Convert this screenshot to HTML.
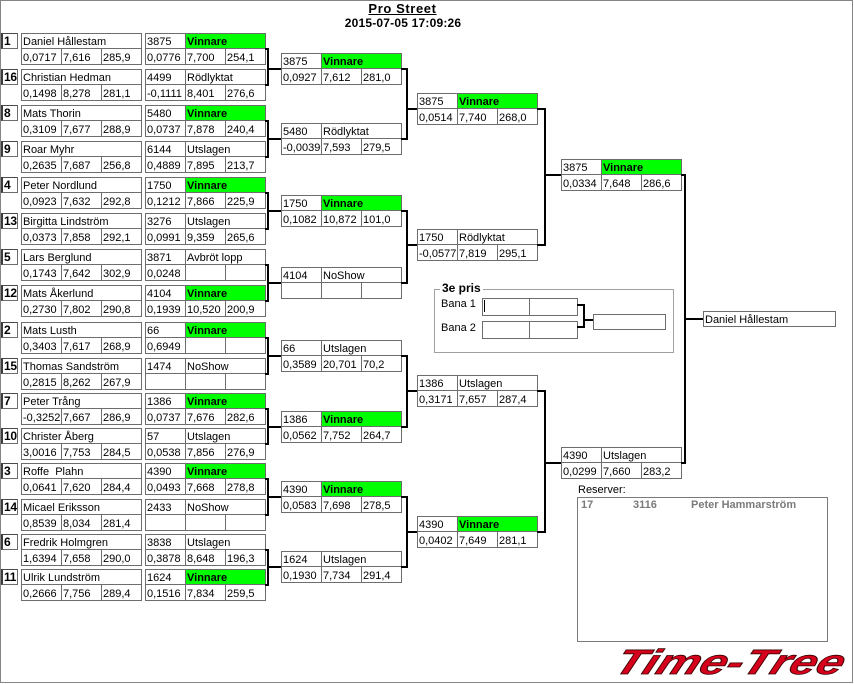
<!DOCTYPE html>
<html><head><meta charset="utf-8">
<style>
html,body{margin:0;padding:0;background:#fff;}
body{width:854px;height:684px;position:relative;overflow:hidden;font-family:"Liberation Sans",sans-serif;}
.frame{position:absolute;left:0;top:0;width:853px;height:683px;box-sizing:border-box;border:1px solid #858585;}
.mb{position:absolute;width:121px;height:32px;}
.pb{position:absolute;left:0;width:142px;height:32px;}
.c{position:absolute;box-sizing:border-box;border:1px solid #6d6d6d;background:#fff;font-size:11px;padding-left:1px;white-space:nowrap;overflow:hidden;color:#000;}
.h{height:16px;line-height:16px;top:0;}
.s{height:17px;line-height:18px;top:15px;}
.w{width:41px;}
.ww{width:81px;}
.n{width:121px;}
.a{left:0;}
.b{left:40px;}
.f{left:80px;}
.g{background:#00ff00;font-weight:bold;}
.sd{position:absolute;left:1px;top:0;width:17px;height:16px;box-sizing:border-box;border:1px solid #6d6d6d;border-left:2px solid #3c3c3c;border-top:1px solid #4a4a4a;font-weight:bold;font-size:12px;line-height:15px;padding-left:1px;letter-spacing:-0.3px;}
.nm{left:21px;}
.p1{left:21px;}
.p2{left:61px;}
.p3{left:101px;}
.k{position:absolute;background:#000;}
.t{position:absolute;white-space:nowrap;}
</style></head><body>
<div class="frame"></div>

<div class="t" style="left:0;width:805px;text-align:center;top:2px;font-size:13px;font-weight:bold;text-decoration:underline;letter-spacing:0.6px;line-height:14px;">Pro Street</div>
<div class="t" style="left:0;width:806px;text-align:center;top:16px;font-size:12px;font-weight:bold;line-height:14px;letter-spacing:0.2px;">2015-07-05 17:09:26</div>

<!-- Players -->
<div class="pb" style="top:33px"><div class="sd">1</div><div class="c h n nm">Daniel Hållestam</div><div class="c s w p1">0,0717</div><div class="c s w p2">7,616</div><div class="c s w p3">285,9</div></div>
<div class="pb" style="top:69px"><div class="sd">16</div><div class="c h n nm">Christian Hedman</div><div class="c s w p1">0,1498</div><div class="c s w p2">8,278</div><div class="c s w p3">281,1</div></div>
<div class="pb" style="top:105px"><div class="sd">8</div><div class="c h n nm">Mats Thorin</div><div class="c s w p1">0,3109</div><div class="c s w p2">7,677</div><div class="c s w p3">288,9</div></div>
<div class="pb" style="top:141px"><div class="sd">9</div><div class="c h n nm">Roar Myhr</div><div class="c s w p1">0,2635</div><div class="c s w p2">7,687</div><div class="c s w p3">256,8</div></div>
<div class="pb" style="top:177px"><div class="sd">4</div><div class="c h n nm">Peter Nordlund</div><div class="c s w p1">0,0923</div><div class="c s w p2">7,632</div><div class="c s w p3">292,8</div></div>
<div class="pb" style="top:213px"><div class="sd">13</div><div class="c h n nm">Birgitta Lindström</div><div class="c s w p1">0,0373</div><div class="c s w p2">7,858</div><div class="c s w p3">292,1</div></div>
<div class="pb" style="top:249px"><div class="sd">5</div><div class="c h n nm">Lars Berglund</div><div class="c s w p1">0,1743</div><div class="c s w p2">7,642</div><div class="c s w p3">302,9</div></div>
<div class="pb" style="top:285px"><div class="sd">12</div><div class="c h n nm">Mats Åkerlund</div><div class="c s w p1">0,2730</div><div class="c s w p2">7,802</div><div class="c s w p3">290,8</div></div>
<div class="pb" style="top:322px"><div class="sd">2</div><div class="c h n nm">Mats Lusth</div><div class="c s w p1">0,3403</div><div class="c s w p2">7,617</div><div class="c s w p3">268,9</div></div>
<div class="pb" style="top:358px"><div class="sd">15</div><div class="c h n nm">Thomas Sandström</div><div class="c s w p1">0,2815</div><div class="c s w p2">8,262</div><div class="c s w p3">267,9</div></div>
<div class="pb" style="top:393px"><div class="sd">7</div><div class="c h n nm">Peter Trång</div><div class="c s w p1">-0,3252</div><div class="c s w p2">7,667</div><div class="c s w p3">286,9</div></div>
<div class="pb" style="top:428px"><div class="sd">10</div><div class="c h n nm">Christer Åberg</div><div class="c s w p1">3,0016</div><div class="c s w p2">7,753</div><div class="c s w p3">284,5</div></div>
<div class="pb" style="top:463px"><div class="sd">3</div><div class="c h n nm">Roffe&nbsp; Plahn</div><div class="c s w p1">0,0641</div><div class="c s w p2">7,620</div><div class="c s w p3">284,4</div></div>
<div class="pb" style="top:499px"><div class="sd">14</div><div class="c h n nm">Micael Eriksson</div><div class="c s w p1">0,8539</div><div class="c s w p2">8,034</div><div class="c s w p3">281,4</div></div>
<div class="pb" style="top:534px"><div class="sd">6</div><div class="c h n nm">Fredrik Holmgren</div><div class="c s w p1">1,6394</div><div class="c s w p2">7,658</div><div class="c s w p3">290,0</div></div>
<div class="pb" style="top:569px"><div class="sd">11</div><div class="c h n nm">Ulrik Lundström</div><div class="c s w p1">0,2666</div><div class="c s w p2">7,756</div><div class="c s w p3">289,4</div></div>

<!-- Round 1 results -->
<div class="mb" style="left:145px;top:33px"><div class="c h w a">3875</div><div class="c h ww b g">Vinnare</div><div class="c s w a">0,0776</div><div class="c s w b">7,700</div><div class="c s w f">254,1</div></div>
<div class="mb" style="left:145px;top:69px"><div class="c h w a">4499</div><div class="c h ww b">Rödlyktat</div><div class="c s w a">-0,1111</div><div class="c s w b">8,401</div><div class="c s w f">276,6</div></div>
<div class="mb" style="left:145px;top:105px"><div class="c h w a">5480</div><div class="c h ww b g">Vinnare</div><div class="c s w a">0,0737</div><div class="c s w b">7,878</div><div class="c s w f">240,4</div></div>
<div class="mb" style="left:145px;top:141px"><div class="c h w a">6144</div><div class="c h ww b">Utslagen</div><div class="c s w a">0,4889</div><div class="c s w b">7,895</div><div class="c s w f">213,7</div></div>
<div class="mb" style="left:145px;top:177px"><div class="c h w a">1750</div><div class="c h ww b g">Vinnare</div><div class="c s w a">0,1212</div><div class="c s w b">7,866</div><div class="c s w f">225,9</div></div>
<div class="mb" style="left:145px;top:213px"><div class="c h w a">3276</div><div class="c h ww b">Utslagen</div><div class="c s w a">0,0991</div><div class="c s w b">9,359</div><div class="c s w f">265,6</div></div>
<div class="mb" style="left:145px;top:249px"><div class="c h w a">3871</div><div class="c h ww b">Avbröt lopp</div><div class="c s w a">0,0248</div><div class="c s w b"></div><div class="c s w f"></div></div>
<div class="mb" style="left:145px;top:285px"><div class="c h w a">4104</div><div class="c h ww b g">Vinnare</div><div class="c s w a">0,1939</div><div class="c s w b">10,520</div><div class="c s w f">200,9</div></div>
<div class="mb" style="left:145px;top:322px"><div class="c h w a">66</div><div class="c h ww b g">Vinnare</div><div class="c s w a">0,6949</div><div class="c s w b"></div><div class="c s w f"></div></div>
<div class="mb" style="left:145px;top:358px"><div class="c h w a">1474</div><div class="c h ww b">NoShow</div><div class="c s w a"></div><div class="c s w b"></div><div class="c s w f"></div></div>
<div class="mb" style="left:145px;top:393px"><div class="c h w a">1386</div><div class="c h ww b g">Vinnare</div><div class="c s w a">0,0737</div><div class="c s w b">7,676</div><div class="c s w f">282,6</div></div>
<div class="mb" style="left:145px;top:428px"><div class="c h w a">57</div><div class="c h ww b">Utslagen</div><div class="c s w a">0,0538</div><div class="c s w b">7,856</div><div class="c s w f">276,9</div></div>
<div class="mb" style="left:145px;top:463px"><div class="c h w a">4390</div><div class="c h ww b g">Vinnare</div><div class="c s w a">0,0493</div><div class="c s w b">7,668</div><div class="c s w f">278,8</div></div>
<div class="mb" style="left:145px;top:499px"><div class="c h w a">2433</div><div class="c h ww b">NoShow</div><div class="c s w a"></div><div class="c s w b"></div><div class="c s w f"></div></div>
<div class="mb" style="left:145px;top:534px"><div class="c h w a">3838</div><div class="c h ww b">Utslagen</div><div class="c s w a">0,3878</div><div class="c s w b">8,648</div><div class="c s w f">196,3</div></div>
<div class="mb" style="left:145px;top:569px"><div class="c h w a">1624</div><div class="c h ww b g">Vinnare</div><div class="c s w a">0,1516</div><div class="c s w b">7,834</div><div class="c s w f">259,5</div></div>

<!-- Round 2 -->
<div class="mb" style="left:281px;top:53px"><div class="c h w a">3875</div><div class="c h ww b g">Vinnare</div><div class="c s w a">0,0927</div><div class="c s w b">7,612</div><div class="c s w f">281,0</div></div>
<div class="mb" style="left:281px;top:123px"><div class="c h w a">5480</div><div class="c h ww b">Rödlyktat</div><div class="c s w a">-0,0039</div><div class="c s w b">7,593</div><div class="c s w f">279,5</div></div>
<div class="mb" style="left:281px;top:195px"><div class="c h w a">1750</div><div class="c h ww b g">Vinnare</div><div class="c s w a">0,1082</div><div class="c s w b">10,872</div><div class="c s w f">101,0</div></div>
<div class="mb" style="left:281px;top:267px"><div class="c h w a">4104</div><div class="c h ww b">NoShow</div><div class="c s w a"></div><div class="c s w b"></div><div class="c s w f"></div></div>
<div class="mb" style="left:281px;top:340px"><div class="c h w a">66</div><div class="c h ww b">Utslagen</div><div class="c s w a">0,3589</div><div class="c s w b">20,701</div><div class="c s w f">70,2</div></div>
<div class="mb" style="left:281px;top:411px"><div class="c h w a">1386</div><div class="c h ww b g">Vinnare</div><div class="c s w a">0,0562</div><div class="c s w b">7,752</div><div class="c s w f">264,7</div></div>
<div class="mb" style="left:281px;top:481px"><div class="c h w a">4390</div><div class="c h ww b g">Vinnare</div><div class="c s w a">0,0583</div><div class="c s w b">7,698</div><div class="c s w f">278,5</div></div>
<div class="mb" style="left:281px;top:551px"><div class="c h w a">1624</div><div class="c h ww b">Utslagen</div><div class="c s w a">0,1930</div><div class="c s w b">7,734</div><div class="c s w f">291,4</div></div>

<!-- Round 3 -->
<div class="mb" style="left:417px;top:93px"><div class="c h w a">3875</div><div class="c h ww b g">Vinnare</div><div class="c s w a">0,0514</div><div class="c s w b">7,740</div><div class="c s w f">268,0</div></div>
<div class="mb" style="left:417px;top:229px"><div class="c h w a">1750</div><div class="c h ww b">Rödlyktat</div><div class="c s w a">-0,0577</div><div class="c s w b">7,819</div><div class="c s w f">295,1</div></div>
<div class="mb" style="left:417px;top:375px"><div class="c h w a">1386</div><div class="c h ww b">Utslagen</div><div class="c s w a">0,3171</div><div class="c s w b">7,657</div><div class="c s w f">287,4</div></div>
<div class="mb" style="left:417px;top:516px"><div class="c h w a">4390</div><div class="c h ww b g">Vinnare</div><div class="c s w a">0,0402</div><div class="c s w b">7,649</div><div class="c s w f">281,1</div></div>

<!-- Round 4 -->
<div class="mb" style="left:561px;top:159px"><div class="c h w a">3875</div><div class="c h ww b g">Vinnare</div><div class="c s w a">0,0334</div><div class="c s w b">7,648</div><div class="c s w f">286,6</div></div>
<div class="mb" style="left:561px;top:447px"><div class="c h w a">4390</div><div class="c h ww b">Utslagen</div><div class="c s w a">0,0299</div><div class="c s w b">7,660</div><div class="c s w f">283,2</div></div>

<!-- Final -->
<div class="c h" style="left:703px;top:311px;width:133px;">Daniel Hållestam</div>

<!-- Brackets R1 -> R2 -->
<div class="k" style="left:265px;top:48px;width:4px;height:2px"></div><div class="k" style="left:265px;top:84px;width:4px;height:2px"></div><div class="k" style="left:267px;top:48px;width:2px;height:38px"></div><div class="k" style="left:267px;top:68px;width:14px;height:2px"></div>
<div class="k" style="left:265px;top:120px;width:4px;height:2px"></div><div class="k" style="left:265px;top:156px;width:4px;height:2px"></div><div class="k" style="left:267px;top:120px;width:2px;height:38px"></div><div class="k" style="left:267px;top:138px;width:14px;height:2px"></div>
<div class="k" style="left:265px;top:192px;width:4px;height:2px"></div><div class="k" style="left:265px;top:228px;width:4px;height:2px"></div><div class="k" style="left:267px;top:192px;width:2px;height:38px"></div><div class="k" style="left:267px;top:210px;width:14px;height:2px"></div>
<div class="k" style="left:265px;top:264px;width:4px;height:2px"></div><div class="k" style="left:265px;top:300px;width:4px;height:2px"></div><div class="k" style="left:267px;top:264px;width:2px;height:38px"></div><div class="k" style="left:267px;top:282px;width:14px;height:2px"></div>
<div class="k" style="left:265px;top:337px;width:4px;height:2px"></div><div class="k" style="left:265px;top:373px;width:4px;height:2px"></div><div class="k" style="left:267px;top:337px;width:2px;height:38px"></div><div class="k" style="left:267px;top:355px;width:14px;height:2px"></div>
<div class="k" style="left:265px;top:408px;width:4px;height:2px"></div><div class="k" style="left:265px;top:443px;width:4px;height:2px"></div><div class="k" style="left:267px;top:408px;width:2px;height:37px"></div><div class="k" style="left:267px;top:426px;width:14px;height:2px"></div>
<div class="k" style="left:265px;top:478px;width:4px;height:2px"></div><div class="k" style="left:265px;top:514px;width:4px;height:2px"></div><div class="k" style="left:267px;top:478px;width:2px;height:38px"></div><div class="k" style="left:267px;top:496px;width:14px;height:2px"></div>
<div class="k" style="left:265px;top:549px;width:4px;height:2px"></div><div class="k" style="left:265px;top:584px;width:4px;height:2px"></div><div class="k" style="left:267px;top:549px;width:2px;height:37px"></div><div class="k" style="left:267px;top:566px;width:14px;height:2px"></div>

<!-- Brackets R2 -> R3 -->
<div class="k" style="left:401px;top:68px;width:7px;height:2px"></div><div class="k" style="left:401px;top:138px;width:7px;height:2px"></div><div class="k" style="left:406px;top:68px;width:2px;height:72px"></div><div class="k" style="left:406px;top:108px;width:11px;height:2px"></div>
<div class="k" style="left:401px;top:210px;width:7px;height:2px"></div><div class="k" style="left:401px;top:282px;width:7px;height:2px"></div><div class="k" style="left:406px;top:210px;width:2px;height:74px"></div><div class="k" style="left:406px;top:244px;width:11px;height:2px"></div>
<div class="k" style="left:401px;top:355px;width:7px;height:2px"></div><div class="k" style="left:401px;top:426px;width:7px;height:2px"></div><div class="k" style="left:406px;top:355px;width:2px;height:73px"></div><div class="k" style="left:406px;top:390px;width:11px;height:2px"></div>
<div class="k" style="left:401px;top:496px;width:7px;height:2px"></div><div class="k" style="left:401px;top:566px;width:7px;height:2px"></div><div class="k" style="left:406px;top:496px;width:2px;height:72px"></div><div class="k" style="left:406px;top:531px;width:11px;height:2px"></div>

<!-- Brackets R3 -> R4 -->
<div class="k" style="left:537px;top:108px;width:9px;height:2px"></div><div class="k" style="left:537px;top:244px;width:9px;height:2px"></div><div class="k" style="left:544px;top:108px;width:2px;height:138px"></div><div class="k" style="left:544px;top:174px;width:17px;height:2px"></div>
<div class="k" style="left:537px;top:390px;width:9px;height:2px"></div><div class="k" style="left:537px;top:531px;width:9px;height:2px"></div><div class="k" style="left:544px;top:390px;width:2px;height:143px"></div><div class="k" style="left:544px;top:462px;width:17px;height:2px"></div>

<!-- Bracket R4 -> Final -->
<div class="k" style="left:681px;top:174px;width:5px;height:2px"></div><div class="k" style="left:681px;top:462px;width:5px;height:2px"></div><div class="k" style="left:684px;top:174px;width:2px;height:290px"></div><div class="k" style="left:684px;top:318px;width:19px;height:2px"></div>

<!-- 3e pris -->
<div style="position:absolute;left:434px;top:289px;width:240px;height:64px;box-sizing:border-box;border:1px solid #a0a0a0;"></div>
<div class="t" style="left:440px;top:281px;font-size:12px;font-weight:bold;line-height:14px;background:#fff;padding:0 2px;">3e pris</div>
<div class="t" style="left:441px;top:297px;font-size:11px;line-height:14px;">Bana 1</div>
<div class="t" style="left:441px;top:321px;font-size:11px;line-height:14px;">Bana 2</div>
<div class="c" style="left:482px;top:298px;width:48px;height:18px;"></div>
<div class="c" style="left:529px;top:298px;width:49px;height:18px;"></div>
<div class="c" style="left:482px;top:321px;width:48px;height:18px;"></div>
<div class="c" style="left:529px;top:321px;width:49px;height:18px;"></div>
<div class="k" style="left:484px;top:300px;width:1px;height:12px"></div>
<div class="k" style="left:577px;top:304px;width:8px;height:2px"></div>
<div class="k" style="left:577px;top:326px;width:8px;height:2px"></div>
<div class="k" style="left:583px;top:304px;width:2px;height:24px"></div>
<div class="k" style="left:583px;top:319px;width:10px;height:2px"></div>
<div class="c" style="left:593px;top:314px;width:73px;height:16px;"></div>

<!-- Reserver -->
<div class="t" style="left:578px;top:483px;font-size:11px;line-height:14px;">Reserver:</div>
<div style="position:absolute;left:577px;top:497px;width:251px;height:145px;box-sizing:border-box;border:1px solid #7a7a7a;"></div>
<div class="t" style="left:581px;top:498px;font-size:11px;font-weight:bold;color:#7a7a7a;line-height:14px;">17</div>
<div class="t" style="left:633px;top:498px;font-size:11px;font-weight:bold;color:#7a7a7a;line-height:14px;">3116</div>
<div class="t" style="left:691px;top:498px;font-size:11px;font-weight:bold;color:#7a7a7a;line-height:14px;">Peter Hammarström</div>

<!-- Logo -->
<svg style="position:absolute;left:0;top:0" width="854" height="684">
  <g transform="translate(612,674) skewX(-22)">
    <text x="0" y="0" font-family="Liberation Sans, sans-serif" font-size="35" font-weight="bold" font-style="italic" fill="#d6001c" stroke="#3a0000" stroke-width="0.8" textLength="228" lengthAdjust="spacingAndGlyphs">Time-Tree</text>
  </g>
</svg>
</body></html>
